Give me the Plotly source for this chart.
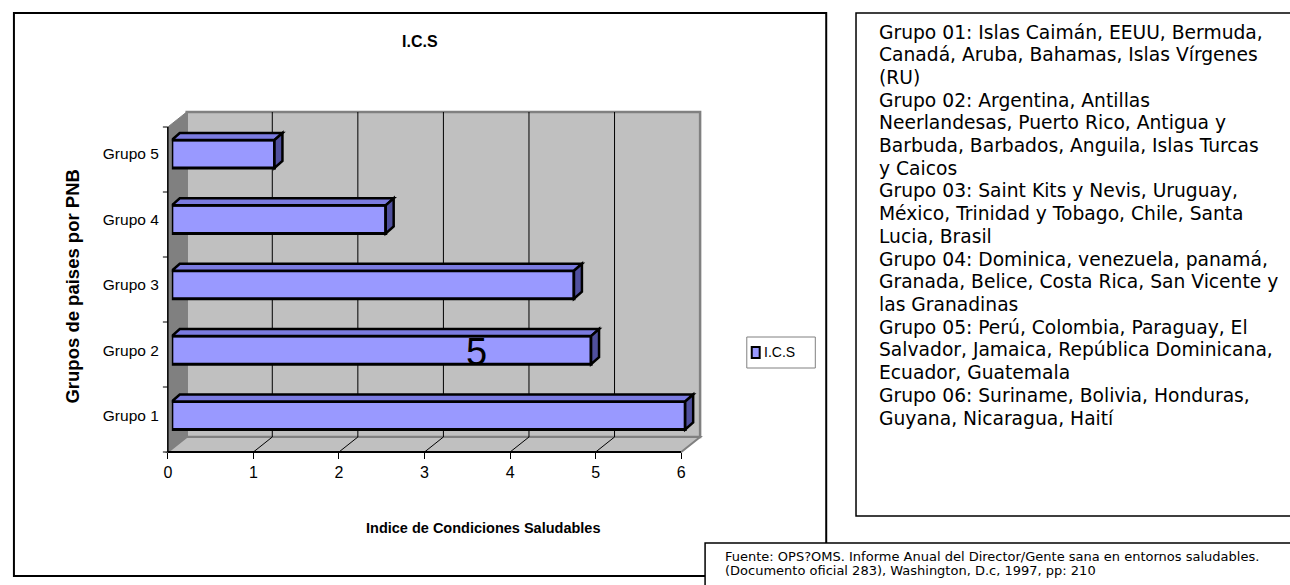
import plotly.graph_objects as go

# ---------------- data ----------------
categories = ["Grupo 1", "Grupo 2", "Grupo 3", "Grupo 4", "Grupo 5"]
ics_values = [6.0, 4.9, 4.7, 2.5, 1.2]
series_name = "I.C.S"
x_ticks = [0, 1, 2, 3, 4, 5, 6]
chart_title = "I.C.S"
x_title = "Indice de Condiciones Saludables"
y_title = "Grupos de paises por PNB"
stray_label = "5"
group_lines = [
    "Grupo 01: Islas Caimán, EEUU, Bermuda,",
    "Canadá, Aruba, Bahamas, Islas Vírgenes",
    "(RU)",
    "Grupo 02: Argentina, Antillas",
    "Neerlandesas, Puerto Rico, Antigua y",
    "Barbuda, Barbados, Anguila, Islas Turcas",
    "y Caicos",
    "Grupo 03: Saint Kits y Nevis, Uruguay,",
    "México, Trinidad y Tobago, Chile, Santa",
    "Lucia, Brasil",
    "Grupo 04: Dominica, venezuela, panamá,",
    "Granada, Belice, Costa Rica, San Vicente y",
    "las Granadinas",
    "Grupo 05: Perú, Colombia, Paraguay, El",
    "Salvador, Jamaica, República Dominicana,",
    "Ecuador, Guatemala",
    "Grupo 06: Suriname, Bolivia, Honduras,",
    "Guyana, Nicaragua, Haití",
]
source_lines = [
    "Fuente: OPS?OMS. Informe Anual del Director/Gente sana en entornos saludables.",
    "(Documento oficial 283), Washington, D.c, 1997, pp: 210",
]

# ---------------- layout helpers ----------------
W, H = 1290, 585


def px(x):
    return x / W


def py(y):
    return 1 - y / H


NARROW = "Liberation Sans Narrow, Arial Narrow, Liberation Sans, Arial, sans-serif"
ARIAL = "Liberation Sans, Arial, sans-serif"
TAHOMA = "DejaVu Sans, Verdana, sans-serif"

FRONT_FILL = "#9999ff"
TOP_FILL = "#7b7be0"
SIDE_FILL = "#50509e"
WALL = "#c0c0c0"
WALL_DARK = "#808080"

# plot geometry (pixels)
front_left, front_right = 165, 682
front_top, front_bottom = 127, 452
depth_dx, depth_dy = 19, 15
unit_px = (front_right - front_left) / 6.0

x_max = 6.3  # room for the 3-D side faces
bar_x0 = 169
bar_x1 = bar_x0 + x_max * unit_px
bar_c_top, bar_c_bottom = 154, 415.5
band = (bar_c_bottom - bar_c_top) / 4
bar_width = 0.43

fig = go.Figure()

fig.add_trace(go.Bar(
    x=ics_values, y=categories, orientation="h", name=series_name,
    width=bar_width,
    marker=dict(color=FRONT_FILL, line=dict(color="black", width=3)),
    showlegend=False, hoverinfo="x+y",
))
# invisible trace to carry the tick axis
fig.add_trace(go.Scatter(
    x=[x_ticks[0], x_ticks[-1]], y=[categories[0], categories[0]],
    xaxis="x2", yaxis="y", mode="markers", marker=dict(opacity=0),
    showlegend=False, hoverinfo="skip",
))

shapes = []


def poly(points, fill, line_color, lw, ref="paper", layer="below"):
    if ref == "paper":
        pts = [(px(a), py(b)) for a, b in points]
        xr, yr = "paper", "paper"
    else:
        pts = points
        xr, yr = "x", "y"
    path = "M " + " L ".join(f"{a},{b}" for a, b in pts) + " Z"
    return dict(type="path", path=path, xref=xr, yref=yr, fillcolor=fill,
                line=dict(color=line_color, width=lw), layer=layer)


def seg(x0, y0, x1, y1, color="black", lw=1, layer="below"):
    return dict(type="line", xref="paper", yref="paper", x0=px(x0), y0=py(y0),
                x1=px(x1), y1=py(y1), line=dict(color=color, width=lw), layer=layer)


# chart frame
shapes.append(dict(type="rect", xref="paper", yref="paper", x0=px(10), y0=py(13),
                   x1=px(828), y1=py(576), line=dict(color="black", width=2),
                   fillcolor="rgba(0,0,0,0)", layer="below"))

# back wall
bl, bt = front_left + depth_dx, front_top - depth_dy
br, bb = front_right + depth_dx, front_bottom - depth_dy
shapes.append(poly([(bl, bt), (br, bt), (br, bb), (bl, bb)], WALL, WALL_DARK, 2.5))
# left wall
shapes.append(poly([(front_left, front_top), (bl, bt), (bl, bb), (front_left, front_bottom)],
                   WALL_DARK, WALL_DARK, 1))
# floor
shapes.append(poly([(front_left, front_bottom), (front_right, front_bottom), (br, bb), (bl, bb)],
                   WALL, WALL_DARK, 2))
# gridlines on back wall and floor
for k in x_ticks[1:-1]:
    xb = bl + k * unit_px
    shapes.append(seg(xb, bt, xb, bb, "black", 1))
    xf = front_left + k * unit_px
    shapes.append(seg(xf, front_bottom, xb, bb, "black", 1))
# left axis line with ticks between categories
shapes.append(seg(front_left, front_top, front_left, front_bottom, "black", 1.5))
for i in range(len(categories) + 1):
    yy = front_top + i * (front_bottom - front_top) / len(categories)
    shapes.append(seg(front_left - 5, yy, front_left, yy, "black", 1))

# 3-D faces of bars (computed from values)
dxu = 8 / unit_px
dyu = 7 / band
for i, v in enumerate(ics_values):
    top = i + bar_width / 2
    bot = i - bar_width / 2
    shapes.append(poly([(0, top), (v, top), (v + dxu, top + dyu), (dxu, top + dyu)],
                       TOP_FILL, "black", 2.5, ref="data", layer="above"))
    shapes.append(poly([(v, bot), (v, top), (v + dxu, top + dyu), (v + dxu, bot + dyu)],
                       SIDE_FILL, "black", 2.5, ref="data", layer="above"))

# legend box (manual)
shapes.append(dict(type="rect", xref="paper", yref="paper", x0=px(748), y0=py(337),
                   x1=px(817), y1=py(368), line=dict(color=WALL_DARK, width=1),
                   fillcolor="white", layer="above"))
shapes.append(dict(type="rect", xref="paper", yref="paper", x0=px(753), y0=py(347),
                   x1=px(761), y1=py(358), line=dict(color="black", width=2),
                   fillcolor=FRONT_FILL, layer="above"))

# group list box
shapes.append(dict(type="rect", xref="paper", yref="paper", x0=px(858), y0=py(13),
                   x1=px(1300), y1=py(516), line=dict(color="black", width=1.5),
                   fillcolor="white", layer="above"))
# source box
shapes.append(dict(type="rect", xref="paper", yref="paper", x0=px(706), y0=py(543),
                   x1=px(1300), y1=py(600), line=dict(color="black", width=1.5),
                   fillcolor="white", layer="above"))


def ann(text, x, y, size, family, xanchor="center", yanchor="middle", angle=0):
    return dict(text=text, x=px(x), y=py(y), xref="paper", yref="paper",
                xanchor=xanchor, yanchor=yanchor, showarrow=False, textangle=angle,
                font=dict(family=family, size=size, color="black"))


annotations = [
    ann(f"<b>{chart_title}</b>", 419, 42, 16, NARROW),
    ann(f"<b>{x_title}</b>", 482, 528, 14.5, NARROW),
    ann(f"<b>{y_title}</b>", 68, 287, 18.5, ARIAL, angle=-90),
    ann(stray_label, 476, 352, 38, ARIAL),
    ann(series_name, 763, 352, 14, NARROW, xanchor="left"),
]
line_y0, line_step = 32, (418 - 32) / (len(group_lines) - 1)
for j, t in enumerate(group_lines):
    annotations.append(ann(t, 879, line_y0 + j * line_step, 18.7, TAHOMA, xanchor="left"))
for j, t in enumerate(source_lines):
    annotations.append(ann(t, 724, 556 + j * 14.5, 13, TAHOMA, xanchor="left"))

fig.update_layout(
    width=W, height=H,
    margin=dict(l=0, r=0, t=0, b=0),
    paper_bgcolor="white", plot_bgcolor="rgba(0,0,0,0)",
    xaxis=dict(domain=[px(bar_x0), px(bar_x1)], range=[0, x_max], visible=False,
               fixedrange=True),
    xaxis2=dict(domain=[px(front_left), px(front_right)], range=[0, 6], anchor="free",
                position=py(front_bottom), tickvals=x_ticks, ticks="outside", ticklen=6,
                tickcolor="black", tickwidth=1, showline=True, linecolor="black",
                linewidth=1.5, showgrid=False, zeroline=False,
                tickfont=dict(family=ARIAL, size=16, color="black"), fixedrange=True),
    yaxis=dict(type="category", categoryorder="array", categoryarray=categories,
               domain=[py(bar_c_bottom + band / 2), py(bar_c_top - band / 2)],
               range=[-0.5, 4.5], showgrid=False, zeroline=False, showline=False,
               ticks="", ticklabelstandoff=12,
               tickfont=dict(family=NARROW, size=15.5, color="black"), fixedrange=True),
    shapes=shapes,
    annotations=annotations,
    showlegend=False,
)

fig.write_html("out.html", config={"displayModeBar": False},
               post_script="document.body.style.margin='0px';")
